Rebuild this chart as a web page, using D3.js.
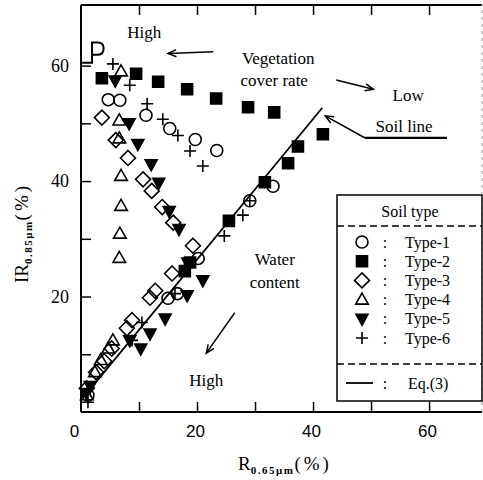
<!DOCTYPE html>
<html>
<head>
<meta charset="utf-8">
<script src="https://cdn.jsdelivr.net/npm/d3@7"></script>
<style>
  body { margin: 0; background: #fff; }
  svg { display: block; }
  text { font-family: "Liberation Serif", "DejaVu Serif", serif; fill: #000; }
</style>
</head>
<body>
<div id="chart"></div>
<script>
// Data: R0.65um (%) vs IR0.85um (%)
const type1R  = [4.7, 6.7, 11.2, 15.3, 19.7, 23.4, 33.1, 29.1, 20.2, 16.6, 15.0, 1.2];
const type1IR = [54.1, 54.0, 51.4, 49.1, 47.2, 45.3, 39.1, 36.6, 26.6, 20.5, 19.7, 2.9];

const type2R  = [3.6, 9.5, 13.3, 18.3, 23.3, 28.8, 33.3, 41.7, 37.4, 35.7, 31.7, 25.5, 18.8, 17.9];
const type2IR = [57.8, 58.6, 57.2, 55.9, 54.3, 52.8, 51.9, 48.1, 46.0, 43.1, 39.8, 33.1, 25.9, 24.4];

const type3R  = [3.6, 6.0, 8.1, 10.7, 12.2, 14.0, 15.9, 19.3, 15.7, 12.8, 11.9, 8.8, 7.9, 5.3, 4.0, 2.6, 1.0];
const type3IR = [51.0, 47.1, 44.0, 40.3, 38.3, 35.5, 32.8, 28.8, 24.0, 21.0, 19.8, 15.9, 14.5, 11.0, 8.8, 6.9, 4.1];

const type4R  = [6.9, 6.6, 6.6, 6.9, 6.9, 6.7, 6.6, 5.5, 4.7, 3.4, 2.4, 1.0];
const type4IR = [59.0, 50.5, 47.4, 40.9, 35.7, 30.9, 26.7, 12.4, 11.0, 9.0, 6.9, 2.9];

const type5R  = [5.9, 8.3, 9.8, 12.1, 13.4, 15.2, 16.9, 18.4, 21.0, 18.3, 14.5, 11.9, 10.3, 8.4, 1.6, 0.9];
const type5IR = [57.4, 50.0, 46.4, 42.9, 39.7, 34.8, 31.7, 25.9, 22.8, 20.2, 16.2, 13.6, 11.0, 12.4, 4.5, 3.3];

const type6R  = [5.5, 8.4, 11.4, 14.1, 16.7, 18.8, 21.0, 29.1, 27.9, 24.7, 18.8, 16.2, 10.5, 8.8, 1.2];
const type6IR = [60.3, 56.6, 53.4, 50.7, 47.9, 45.2, 42.6, 36.6, 34.1, 30.5, 25.9, 20.5, 15.5, 12.4, 1.7];

// Soil line, Eq.(3), end points
const soilLineR  = [0.3, 41.6];
const soilLineIR = [2.4, 52.7];

const typeNames = ["Type-1", "Type-2", "Type-3", "Type-4", "Type-5", "Type-6"];
const xTicks = [0, 20, 40, 60];
const yTicks = [20, 40, 60];
const minorTicks = [10, 20, 30, 40, 50, 60];

const width = 483, height = 480;
const margin = { top: 5, right: 0, bottom: 68, left: 81 };

const svg = d3.select("#chart").append("svg")
    .attr("width", width)
    .attr("height", height);

const x = d3.scaleLinear().domain([0, 69.3]).range([margin.left, width]);
const y = d3.scaleLinear().domain([0, 70.5]).range([height - margin.bottom, margin.top]);

// marker shapes
const shapes = {
    "Type-1": "M6,0A6,6,0,1,1,-6,0A6,6,0,1,1,6,0Z",
    "Type-2": "M-5.5,-5.5H5.5V5.5H-5.5Z",
    "Type-3": "M0,-7.5L7.5,0L0,7.5L-7.5,0Z",
    "Type-4": "M0,-6.5L6.3,4.5L-6.3,4.5Z",
    "Type-5": "M-6,-4.5L6,-4.5L0,6.5Z",
    "Type-6": "M-6,0H6M0,-6V6"
};
const filled = { "Type-1": false, "Type-2": true, "Type-3": false, "Type-4": false, "Type-5": true, "Type-6": false };

const series = [
    { name: "Type-1", r: type1R, ir: type1IR },
    { name: "Type-2", r: type2R, ir: type2IR },
    { name: "Type-3", r: type3R, ir: type3IR },
    { name: "Type-4", r: type4R, ir: type4IR },
    { name: "Type-5", r: type5R, ir: type5IR },
    { name: "Type-6", r: type6R, ir: type6IR }
];

// frame
const x0 = x(0), x1 = width - 1, y0 = y(0), y1 = margin.top;
svg.append("line").attr("x1", x0).attr("x2", x1).attr("y1", y0).attr("y2", y0)
    .attr("stroke", "#000").attr("stroke-width", 2);
svg.append("line").attr("x1", x0).attr("x2", x0).attr("y1", y0).attr("y2", y1)
    .attr("stroke", "#000").attr("stroke-width", 2);
svg.append("line").attr("x1", x0).attr("x2", x1).attr("y1", y1).attr("y2", y1)
    .attr("stroke", "#000").attr("stroke-width", 2);
svg.append("line").attr("x1", x1).attr("x2", x1).attr("y1", y0).attr("y2", y1)
    .attr("stroke", "#999").attr("stroke-width", 1).attr("stroke-dasharray", "3,4");

// inward ticks on all sides
function tickOnly(g) { g.select(".domain").remove(); g.selectAll("text").remove(); g.selectAll("line").attr("stroke-width", 1.5); }
svg.append("g").attr("transform", `translate(0,${y0})`)
    .call(d3.axisBottom(x).tickValues(minorTicks).tickSize(-10)).call(tickOnly);
svg.append("g").attr("transform", `translate(0,${y1})`)
    .call(d3.axisTop(x).tickValues(minorTicks).tickSize(-10)).call(tickOnly);
svg.append("g").attr("transform", `translate(${x0},0)`)
    .call(d3.axisLeft(y).tickValues(minorTicks).tickSize(-10)).call(tickOnly);

// tick labels
const xAxis = svg.append("g").attr("transform", `translate(0,${y0})`)
    .call(d3.axisBottom(x).tickValues(xTicks).tickSize(0).tickPadding(13));
xAxis.select(".domain").remove();
xAxis.selectAll("text").style("font-family", "'Liberation Sans', Arial, sans-serif").style("font-size", "17px")
    .attr("dx", d => d === 0 ? -7 : -2);

const yAxis = svg.append("g").attr("transform", `translate(${x0},0)`)
    .call(d3.axisLeft(y).tickValues(yTicks).tickSize(0).tickPadding(12));
yAxis.select(".domain").remove();
yAxis.selectAll("text").style("font-family", "'Liberation Serif', serif").style("font-size", "18px");

// axis titles
function axisTitle(t, main, sub) {
    t.attr("text-anchor", "middle").style("font-size", "19px");
    t.append("tspan").text(main);
    t.append("tspan").attr("dy", 4).style("font-size", "11px").style("font-weight", "bold")
        .style("letter-spacing", "1.5px").text(sub);
    t.append("tspan").attr("dy", -4).style("letter-spacing", "3px").text("(%)");
}
axisTitle(svg.append("text").attr("x", 285).attr("y", 470), "R", "0.65\u03bcm");
axisTitle(svg.append("text").attr("transform", "translate(28,233) rotate(-90)"), "IR", "0.85\u03bcm");

// soil line
const line = d3.line().x(d => x(d[0])).y(d => y(d[1]));
svg.append("path")
    .attr("d", line(soilLineR.map((r, i) => [r, soilLineIR[i]])))
    .attr("fill", "none").attr("stroke", "#000").attr("stroke-width", 1.8);

// points
series.forEach(s => {
    svg.append("g").selectAll("path")
        .data(s.r.map((r, i) => [r, s.ir[i]]))
        .join("path")
        .attr("transform", d => `translate(${x(d[0])},${y(d[1])})`)
        .attr("d", shapes[s.name])
        .attr("fill", filled[s.name] ? "#000" : "none")
        .attr("stroke", "#000")
        .attr("stroke-width", 1.6);
});

// annotations (placed in data units)
function label(tx, ty, str) {
    svg.append("text").attr("x", x(tx)).attr("y", y(ty)).attr("text-anchor", "middle")
        .attr("dominant-baseline", "central").style("font-size", "17px").text(str);
}
function arrow(ax, ay, bx, by) {
    const p1 = [x(ax), y(ay)], p2 = [x(bx), y(by)];
    const ang = Math.atan2(p2[1] - p1[1], p2[0] - p1[0]);
    const h = 9, w = 0.4;
    const g = svg.append("g").attr("stroke", "#000").attr("stroke-width", 1.5).attr("fill", "none");
    g.append("line").attr("x1", p1[0]).attr("y1", p1[1]).attr("x2", p2[0]).attr("y2", p2[1]);
    g.append("path").attr("d", `M${p2[0] - h * Math.cos(ang - w)},${p2[1] - h * Math.sin(ang - w)}L${p2[0]},${p2[1]}L${p2[0] - h * Math.cos(ang + w)},${p2[1] - h * Math.sin(ang + w)}`);
}

label(10.9, 65.7, "High");
arrow(22.8, 62.4, 15.0, 62.1);
label(34.0, 61.3, "Vegetation");
label(33.3, 57.5, "cover rate");
arrow(44.0, 57.5, 50.4, 55.9);
label(56.4, 54.9, "Low");
label(55.7, 49.5, "Soil line");
svg.append("line").attr("x1", x(48.9)).attr("x2", x(63.1)).attr("y1", y(47.5)).attr("y2", y(47.5))
    .attr("stroke", "#000").attr("stroke-width", 2.2);
arrow(48.9, 47.5, 42.1, 51.3);
label(33.4, 26.5, "Water");
label(33.4, 22.5, "content");
arrow(26.5, 17.2, 21.6, 10.2);
label(21.6, 5.5, "High");

// scan mark near the top left corner
svg.append("path")
    .attr("d", `M${x(0.2)},${y(60.5)}H${x(1.9)}V${y(64.0)}H${x(2.9)}Q${x(3.9)},${y(64.0)} ${x(3.9)},${y(63.0)}Q${x(3.9)},${y(61.9)} ${x(2.9)},${y(61.9)}H${x(1.9)}`)
    .attr("fill", "none").attr("stroke", "#000").attr("stroke-width", 2);

// legend
const lg = svg.append("g");
const lx0 = 337, lx1 = width - 1, ly0 = 195, ly1 = 401;
lg.append("rect").attr("x", lx0).attr("y", ly0).attr("width", lx1 - lx0).attr("height", ly1 - ly0)
    .attr("fill", "#fff").attr("stroke", "#000").attr("stroke-width", 1.5);
lg.append("text").attr("x", 410).attr("y", 211).attr("text-anchor", "middle")
    .attr("dominant-baseline", "central").style("font-size", "16px").text("Soil type");
[226, 364].forEach(yy => lg.append("line").attr("x1", lx0).attr("x2", lx1).attr("y1", yy).attr("y2", yy)
    .attr("stroke", "#000").attr("stroke-width", 1.5).attr("stroke-dasharray", "7,4"));
const rowY = d3.scalePoint().domain(typeNames).range([242, 338]);
typeNames.forEach(n => {
    const yy = rowY(n);
    lg.append("path").attr("transform", `translate(362,${yy})`).attr("d", shapes[n])
        .attr("fill", filled[n] ? "#000" : "none").attr("stroke", "#000").attr("stroke-width", 1.6);
    lg.append("text").attr("x", 385).attr("y", yy).attr("text-anchor", "middle")
        .attr("dominant-baseline", "central").style("font-size", "16px").text(":");
    lg.append("text").attr("x", 405).attr("y", yy).attr("dominant-baseline", "central")
        .style("font-size", "16px").text(n);
});
lg.append("line").attr("x1", 346).attr("x2", 373).attr("y1", 383).attr("y2", 383)
    .attr("stroke", "#000").attr("stroke-width", 1.8);
lg.append("text").attr("x", 385).attr("y", 383).attr("text-anchor", "middle")
    .attr("dominant-baseline", "central").style("font-size", "16px").text(":");
lg.append("text").attr("x", 408).attr("y", 383).attr("dominant-baseline", "central")
    .style("font-size", "16px").text("Eq.(3)");
</script>
</body>
</html>
